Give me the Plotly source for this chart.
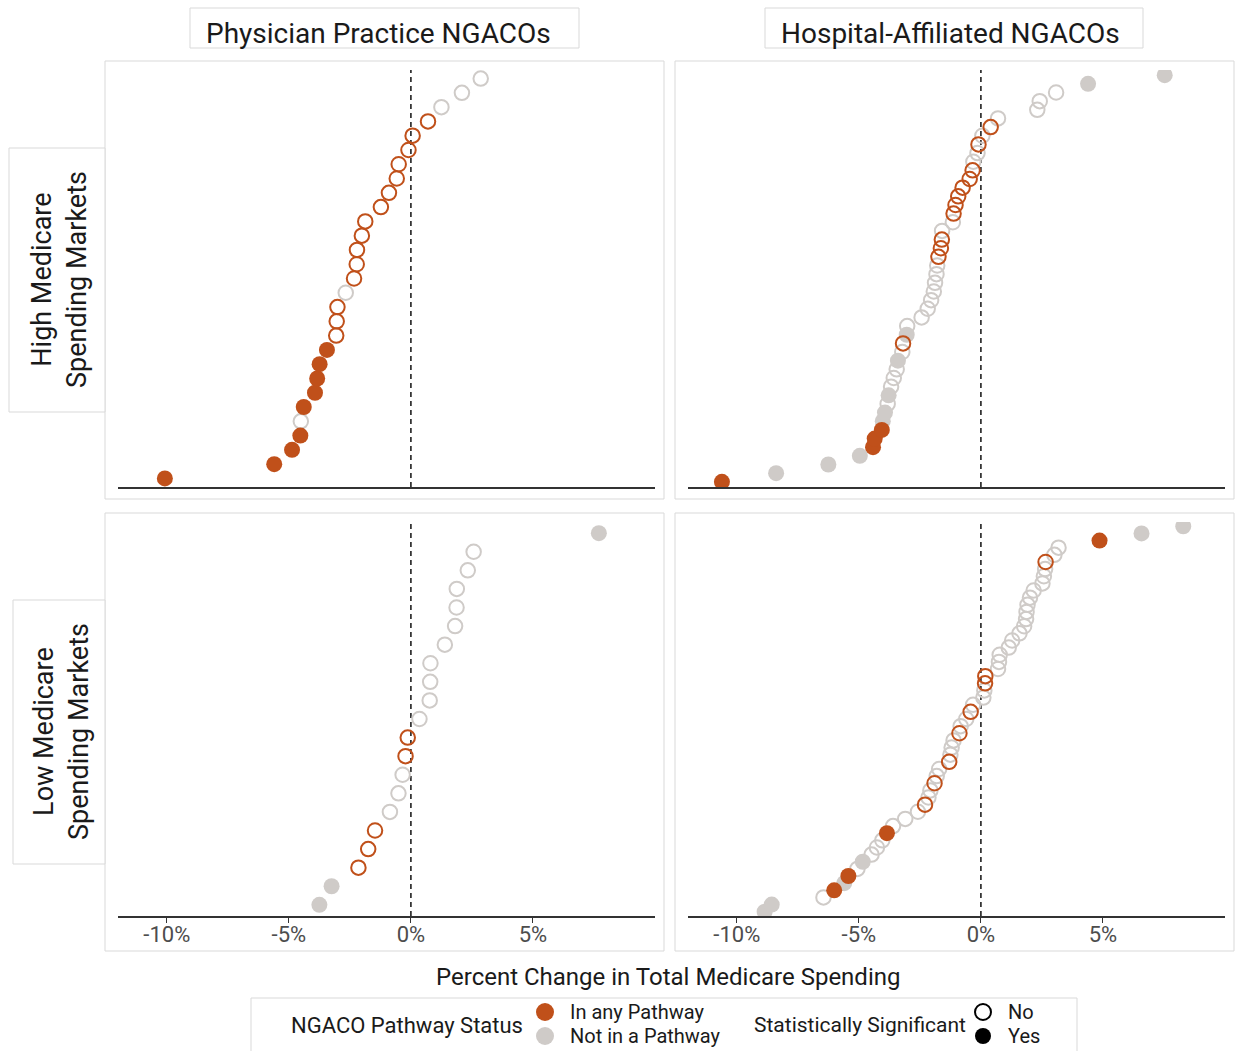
import plotly.graph_objects as go
import numpy as np

W, H = 1235, 1051

# ---------------- data ----------------
col_labels = ["Physician Practice NGACOs", "Hospital-Affiliated NGACOs"]
row_labels = ["High Medicare<br>Spending Markets", "Low Medicare<br>Spending Markets"]
x_tick_vals = [-10, -5, 0, 5]
x_tick_text = ["-10%", "-5%", "0%", "5%"]
x_title = "Percent Change in Total Medicare Spending"
legend_fill_title = "NGACO Pathway Status"
legend_fill_labels = ["In any Pathway", "Not in a Pathway"]
legend_sig_title = "Statistically Significant"
legend_sig_labels = ["No", "Yes"]

# Physician practice NGACOs, high-spending markets (1 = in any pathway / significant)
phys_high_change = [-10.08, -5.60, -4.87, -4.53, -4.51, -4.39, -3.93, -3.84, -3.74, -3.44,
                    -3.06, -3.04, -3.01, -2.67, -2.33, -2.22, -2.21, -2.01, -1.87, -1.23,
                    -0.90, -0.58, -0.50, -0.10, 0.07, 0.70, 1.25, 2.09, 2.86]
phys_high_pathway = [1, 1, 1, 1, 0, 1, 1, 1, 1, 1,
                     1, 1, 1, 0, 1, 1, 1, 1, 1, 1,
                     1, 1, 1, 1, 1, 1, 0, 0, 0]
phys_high_sig = [1, 1, 1, 1, 0, 1, 1, 1, 1, 1,
                 0, 0, 0, 0, 0, 0, 0, 0, 0, 0,
                 0, 0, 0, 0, 0, 0, 0, 0, 0]

# Hospital-affiliated NGACOs, high-spending markets
hosp_high_change = [-10.61, -8.39, -6.25, -4.96, -4.42, -4.35, -4.06, -4.02, -3.93, -3.82,
                    -3.78, -3.68, -3.57, -3.45, -3.40, -3.22, -3.19, -3.04, -3.02, -2.43,
                    -2.18, -2.04, -1.93, -1.88, -1.82, -1.79, -1.74, -1.64, -1.60, -1.59,
                    -1.15, -1.12, -1.04, -0.93, -0.75, -0.46, -0.34, -0.31, -0.14, -0.10,
                    0.06, 0.40, 0.70, 2.31, 2.41, 3.08, 4.39, 7.53]
hosp_high_pathway = [1, 0, 0, 0, 1, 1, 1, 0, 0, 0,
                     0, 0, 0, 0, 0, 0, 1, 0, 0, 0,
                     0, 0, 0, 0, 0, 0, 1, 1, 1, 0,
                     0, 1, 1, 1, 1, 1, 1, 0, 0, 1,
                     0, 1, 0, 0, 0, 0, 0, 0]
hosp_high_sig = [1, 1, 1, 1, 1, 1, 1, 1, 1, 0,
                 1, 0, 0, 0, 1, 0, 0, 1, 0, 0,
                 0, 0, 0, 0, 0, 0, 0, 0, 0, 0,
                 0, 0, 0, 0, 0, 0, 0, 0, 0, 0,
                 0, 0, 0, 0, 0, 0, 1, 1]

# Physician practice NGACOs, low-spending markets
phys_low_change = [-3.75, -3.25, -2.15, -1.75, -1.47, -0.86, -0.51, -0.34, -0.22, -0.13,
                   0.35, 0.77, 0.79, 0.80, 1.39, 1.81, 1.87, 1.88, 2.33, 2.57, 7.70]
phys_low_pathway = [0, 0, 1, 1, 1, 0, 0, 0, 1, 1,
                    0, 0, 0, 0, 0, 0, 0, 0, 0, 0, 0]
phys_low_sig = [1, 1, 0, 0, 0, 0, 0, 0, 0, 0,
                0, 0, 0, 0, 0, 0, 0, 0, 0, 0, 1]

# Hospital-affiliated NGACOs, low-spending markets
hosp_low_change = [-8.86, -8.57, -6.45, -6.01, -5.60, -5.43, -5.06, -4.84, -4.48, -4.26,
                   -4.04, -3.85, -3.60, -3.10, -2.58, -2.29, -2.15, -2.07, -1.90, -1.81,
                   -1.71, -1.30, -1.25, -1.20, -1.12, -0.88, -0.83, -0.60, -0.42, -0.32,
                   0.10, 0.14, 0.17, 0.18, 0.70, 0.74, 0.77, 1.14, 1.28, 1.58,
                   1.77, 1.85, 1.87, 1.91, 2.01, 2.16, 2.52, 2.58, 2.63, 2.65,
                   3.01, 3.18, 4.86, 6.58, 8.29]
hosp_low_pathway = [0, 0, 0, 1, 0, 1, 0, 0, 0, 0,
                    0, 1, 0, 0, 0, 1, 0, 0, 1, 0,
                    0, 1, 0, 0, 0, 1, 0, 0, 1, 0,
                    0, 0, 1, 1, 0, 0, 0, 0, 0, 0,
                    0, 0, 0, 0, 0, 0, 0, 0, 0, 1,
                    0, 0, 1, 0, 0]
hosp_low_sig = [1, 1, 0, 1, 1, 1, 0, 1, 0, 0,
                0, 1, 0, 0, 0, 0, 0, 0, 0, 0,
                0, 0, 0, 0, 0, 0, 0, 0, 0, 0,
                0, 0, 0, 0, 0, 0, 0, 0, 0, 0,
                0, 0, 0, 0, 0, 0, 0, 0, 0, 0,
                0, 0, 1, 1, 1]

# ---------------- styles ----------------
ORANGE = "#C0501A"
GRAY = "#CFCBC8"
BOX = "#D9D9D9"
TEXT = "#1A1A1A"
TICK = "#4D4D4D"
FONT = "Roboto"


def px(p):
    return p / W


def py(p):
    return 1 - p / H


col_dom = [(118, 655), (688, 1225)]
row_dom = [(70, 487), (522, 916)]

panels = [
    (phys_high_change, phys_high_pathway, phys_high_sig, 0, 0),
    (hosp_high_change, hosp_high_pathway, hosp_high_sig, 0, 1),
    (phys_low_change, phys_low_pathway, phys_low_sig, 1, 0),
    (hosp_low_change, hosp_low_pathway, hosp_low_sig, 1, 1),
]

fig = go.Figure()
layout = dict(
    width=W, height=H,
    margin=dict(l=0, r=0, t=0, b=0),
    paper_bgcolor="white", plot_bgcolor="rgba(0,0,0,0)",
    showlegend=False,
    font=dict(family=FONT, color=TEXT),
)
shapes = []
annotations = []

for i, (chg, pw, sg, r, c) in enumerate(panels):
    sfx = "" if i == 0 else str(i + 1)
    xa, ya = "x" + sfx, "y" + sfx
    chg = np.asarray(chg, dtype=float)
    pw = np.asarray(pw)
    sg = np.asarray(sg)
    order = np.argsort(chg, kind="stable")
    rank = np.empty(len(chg))
    rank[order] = np.arange(1, len(chg) + 1)
    n = len(chg)

    for path_flag, col in [(0, GRAY), (1, ORANGE)]:
        for sig_flag in [0, 1]:
            m = (pw == path_flag) & (sg == sig_flag)
            if not m.any():
                continue
            if sig_flag:
                marker = dict(symbol="circle", size=16, color=col, line=dict(width=0))
            else:
                marker = dict(symbol="circle-open", size=14.5, color=col,
                              line=dict(width=2, color=col))
            fig.add_trace(go.Scatter(x=chg[m], y=rank[m], mode="markers",
                                     marker=marker, xaxis=xa, yaxis=ya,
                                     hoverinfo="x"))

    x0, x1 = col_dom[c]
    y0, y1 = row_dom[r]
    layout["xaxis" + sfx] = dict(
        domain=[px(x0), px(x1)], range=[-12, 10], anchor=ya,
        showgrid=False, zeroline=False, showline=True, linecolor="#333333", linewidth=1.6,
        tickvals=x_tick_vals, ticktext=x_tick_text,
        showticklabels=(r == 1), ticks="outside" if r == 1 else "",
        ticklen=5, tickwidth=1, tickcolor="#333333",
        ticklabelstandoff=-7,
        tickfont=dict(family=FONT, size=22, color=TICK),
        fixedrange=True,
    )
    layout["yaxis" + sfx] = dict(
        domain=[py(y1), py(y0)], range=[0.4, n + 0.6], anchor=xa,
        visible=False, showgrid=False, zeroline=False, fixedrange=True,
    )
    shapes.append(dict(type="line", xref=xa, yref=ya + " domain", x0=0, x1=0, y0=0, y1=1,
                       line=dict(color="#111111", width=1.5, dash="5px,4px"), layer="below"))

# panel boxes
for (bx0, by0, bx1, by1) in [(105, 61, 664, 499), (675, 61, 1234, 499),
                             (105, 513, 664, 951), (675, 513, 1234, 951)]:
    shapes.append(dict(type="rect", xref="paper", yref="paper",
                       x0=px(bx0), x1=px(bx1), y0=py(by1), y1=py(by0),
                       line=dict(color=BOX, width=1), fillcolor="rgba(0,0,0,0)", layer="below"))

# column strips
for (bx0, by0, bx1, by1), tx, lab in zip([(190, 8, 579, 48), (765, 8, 1143, 48)],
                                         [378, 950], col_labels):
    shapes.append(dict(type="rect", xref="paper", yref="paper",
                       x0=px(bx0), x1=px(bx1), y0=py(by1), y1=py(by0),
                       line=dict(color=BOX, width=1), fillcolor="white", layer="below"))
    annotations.append(dict(text=lab, xref="paper", yref="paper",
                            x=px(tx), y=py((by0 + by1) / 2 + 6),
                            xanchor="center", yanchor="middle", showarrow=False,
                            font=dict(family=FONT, size=28, color=TEXT)))

# row strips
for (bx0, by0, bx1, by1), lab in zip([(9, 148, 105, 412), (13, 600, 105, 864)], row_labels):
    shapes.append(dict(type="rect", xref="paper", yref="paper",
                       x0=px(bx0), x1=px(bx1), y0=py(by1), y1=py(by0),
                       line=dict(color=BOX, width=1), fillcolor="white", layer="below"))
    annotations.append(dict(text=lab, xref="paper", yref="paper",
                            x=px((bx0 + bx1) / 2 + 2), y=py((by0 + by1) / 2),
                            xanchor="center", yanchor="middle", showarrow=False, textangle=-90,
                            font=dict(family=FONT, size=27, color=TEXT)))

# x-axis title
annotations.append(dict(text=x_title, xref="paper", yref="paper", x=px(668), y=py(977),
                        xanchor="center", yanchor="middle", showarrow=False,
                        font=dict(family=FONT, size=24, color=TEXT)))

# legend
shapes.append(dict(type="rect", xref="paper", yref="paper",
                   x0=px(251), x1=px(1077), y0=py(1053), y1=py(998),
                   line=dict(color=BOX, width=1), fillcolor="white", layer="below"))
LEG_T = 22
LEG_FS = 20
annotations.append(dict(text=legend_fill_title, xref="paper", yref="paper", x=px(289), y=py(1025),
                        xanchor="left", yanchor="middle", showarrow=False,
                        font=dict(family=FONT, size=LEG_T, color=TEXT)))
annotations.append(dict(text=legend_sig_title, xref="paper", yref="paper", x=px(752), y=py(1025),
                        xanchor="left", yanchor="middle", showarrow=False,
                        font=dict(family=FONT, size=LEG_T - 1, color=TEXT)))
key_rows = [1012, 1036]
for yy, lab, col in zip(key_rows, legend_fill_labels, [ORANGE, GRAY]):
    shapes.append(dict(type="circle", xref="paper", yref="paper", xsizemode="pixel",
                       ysizemode="pixel", xanchor=px(545), yanchor=py(yy),
                       x0=-9, x1=9, y0=-9, y1=9, line=dict(width=0), fillcolor=col))
    annotations.append(dict(text=lab, xref="paper", yref="paper", x=px(568), y=py(yy),
                            xanchor="left", yanchor="middle", showarrow=False,
                            font=dict(family=FONT, size=LEG_FS, color=TEXT)))
for yy, lab, filled in zip(key_rows, legend_sig_labels, [False, True]):
    shapes.append(dict(type="circle", xref="paper", yref="paper", xsizemode="pixel",
                       ysizemode="pixel", xanchor=px(983), yanchor=py(yy),
                       x0=-8, x1=8, y0=-8, y1=8,
                       line=dict(width=2 if not filled else 0, color="black"),
                       fillcolor="black" if filled else "rgba(0,0,0,0)"))
    annotations.append(dict(text=lab, xref="paper", yref="paper", x=px(1006), y=py(yy),
                            xanchor="left", yanchor="middle", showarrow=False,
                            font=dict(family=FONT, size=LEG_FS, color=TEXT)))

layout["shapes"] = shapes
layout["annotations"] = annotations
fig.update_layout(**layout)
fig.write_html("out.html", config={"displayModeBar": False},
               post_script="document.body.style.margin='0';document.body.style.overflow='hidden';")
